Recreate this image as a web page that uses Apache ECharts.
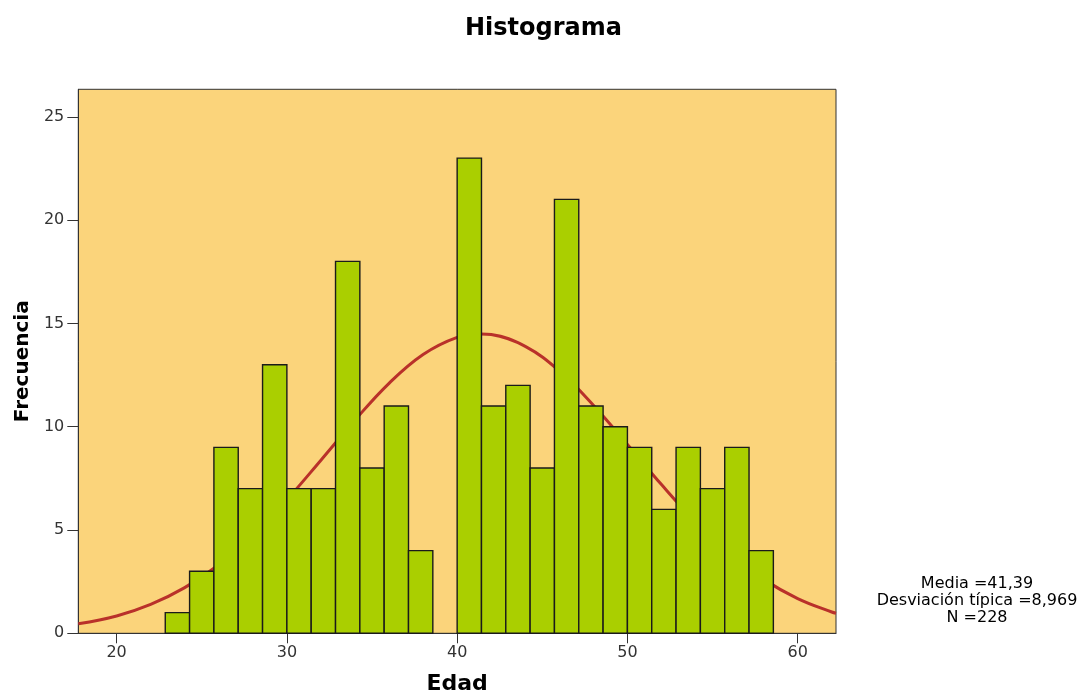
<!DOCTYPE html>
<html><head><meta charset="utf-8">
<script src="https://cdn.jsdelivr.net/npm/echarts@6/dist/echarts.min.js"></script>
<style>html,body{margin:0;padding:0;background:#fff}#c{width:1087px;height:693px}</style>
</head><body><div id="c"></div>
<script>
// Histogram data: bins of width 10/7 starting at 160/7
const binStart = 160 / 7;
const binWidth = 10 / 7;
const counts = [1, 3, 9, 7, 13, 7, 7, 18, 8, 11, 4, 0, 23, 11, 12, 8, 21, 11, 10, 9, 6, 9, 7, 9, 4];
// Normal curve
const curveX = [17.75, 20, 22, 24, 26, 28, 30, 32, 34, 36, 38, 40, 41.4, 42, 44, 46, 48, 50, 52, 54, 56, 58, 60, 62, 62.25];
const curveY = [0.46, 0.84, 1.40, 2.21, 3.32, 4.76, 6.47, 8.38, 10.32, 12.10, 13.49, 14.32, 14.49, 14.46, 13.89, 12.70, 11.04, 9.14, 7.20, 5.39, 3.84, 2.61, 1.68, 1.03, 0.97];
const xTicks = [20, 30, 40, 50, 60];
const yTicks = [0, 5, 10, 15, 20, 25];
const statsLines = ['Media =41,39', 'Desviación típica =8,969', 'N =228'];

const barData = counts.map((c, i) => [binStart + i * binWidth, binStart + (i + 1) * binWidth, c]);
const lineData = curveX.map((x, i) => [x, curveY[i]]);
const FONT = '"DejaVu Sans", "Liberation Sans", Arial, sans-serif';

const chart = echarts.init(document.getElementById('c'));
chart.setOption({
  animation: false,
  backgroundColor: '#ffffff',
  title: {
    text: 'Histograma', left: 'center', top: 12,
    textStyle: { fontFamily: FONT, fontWeight: 'bold', fontSize: 24, color: '#000' }
  },
  graphic: [{
    type: 'text', x: 977, y: 575,
    style: {
      text: statsLines.join('\n'),
      font: '16px "DejaVu Sans", sans-serif', fill: '#000',
      textAlign: 'center', align: 'center', textVerticalAlign: 'top', verticalAlign: 'top', lineHeight: 17
    }
  }],
  grid: {
    left: 78.3, right: 251, top: 89.3, bottom: 59.7,
    outerBoundsMode: 'none', containLabel: false,
    show: true, backgroundColor: '#FBD47B', borderColor: '#333', borderWidth: 1
  },
  xAxis: {
    type: 'value', min: 17.75, max: 62.25,
    name: 'Edad', nameLocation: 'middle', nameGap: 40,
    nameTextStyle: { fontFamily: FONT, fontWeight: 'bold', fontSize: 22, color: '#000' },
    splitLine: { show: false },
    axisLine: { show: true, onZero: false, lineStyle: { color: '#333', width: 1 } },
    axisTick: { show: true, length: 10, customValues: xTicks, lineStyle: { color: '#333' } },
    axisLabel: { customValues: xTicks, fontFamily: FONT, fontSize: 16, color: '#333', margin: 12 }
  },
  yAxis: {
    type: 'value', min: 0, max: 26.33,
    name: 'Frecuencia', nameLocation: 'middle', nameGap: 45, nameRotate: 90,
    nameTextStyle: { fontFamily: FONT, fontWeight: 'bold', fontSize: 20, color: '#000' },
    splitLine: { show: false },
    axisLine: { show: true, lineStyle: { color: '#333', width: 1 } },
    axisTick: { show: true, length: 11, customValues: yTicks, lineStyle: { color: '#333' } },
    axisLabel: { customValues: yTicks, fontFamily: FONT, fontSize: 16, color: '#333', margin: 14 }
  },
  series: [{
    type: 'line',
    data: lineData,
    smooth: 0.4,
    showSymbol: false,
    lineStyle: { color: '#B9312A', width: 3 },
    z: 1
  }, {
    type: 'custom',
    data: barData,
    encode: { x: [0, 1], y: 2 },
    renderItem: function (params, api) {
      const c = api.value(2);
      if (!c) return null;
      const p0 = api.coord([api.value(0), c]);
      const p1 = api.coord([api.value(1), 0]);
      return {
        type: 'rect',
        shape: { x: p0[0], y: p0[1], width: p1[0] - p0[0], height: p1[1] - p0[1] },
        style: { fill: '#AACF00', stroke: '#1a1a1a', lineWidth: 1.4 }
      };
    },
    z: 3
  }]
});
</script>
</body></html>
